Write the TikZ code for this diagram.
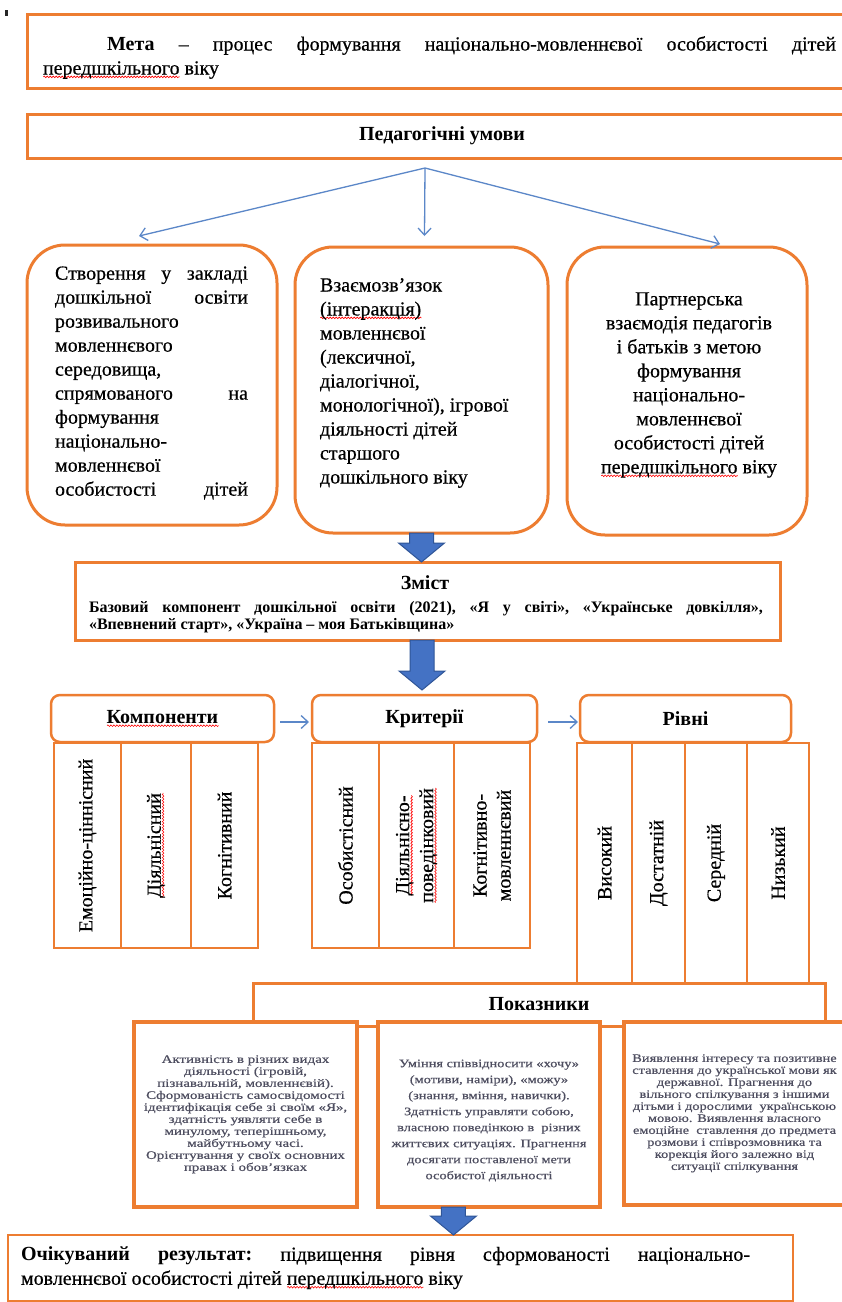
\documentclass[tikz,border=0pt]{standalone}
\usepackage{fontspec}
\setmainfont{Liberation Serif}[UprightFeatures={FakeBold=0.5}]
\usepackage{graphicx}
\usetikzlibrary{arrows.meta,calc,decorations.pathmorphing}
\definecolor{orng}{RGB}{237,125,49}
\definecolor{ablue}{RGB}{68,114,196}
\definecolor{adark}{RGB}{47,85,151}
\definecolor{lblue}{RGB}{91,135,200}
\definecolor{smalltxt}{RGB}{78,78,96}
\newsavebox\sqbox
\newcommand\sq[1]{\sbox\sqbox{#1}\leavevmode\rlap{\raisebox{-3.5pt}{\tikz[x=1pt,y=1pt,sharp corners]\draw[red,fill=none,line width=0.6pt,decorate,decoration={snake,amplitude=0.8pt,segment length=3pt}] (0,0) -- (\the\wd\sqbox,0);}}\usebox\sqbox}
\newcommand\stretchtext[2]{\scalebox{#1}[1]{\begin{tabular}{@{}c@{}}#2\end{tabular}}}
% block arrow from a named start coordinate down to the level of a named target
\newcommand\barrow[2]{%
  \draw[barrowst] ($(#1)+(-12,0)$) -- ($(#1 |- #2)+(-12,-19)$) -- ($(#1 |- #2)+(-23,-19)$)
    -- (#1 |- #2) -- ($(#1 |- #2)+(23,-19)$) -- ($(#1 |- #2)+(12,-19)$) -- ($(#1)+(12,0)$) -- cycle;}
\begin{document}
\begin{tikzpicture}[x=1pt,y=-1pt,
  every node/.style={inner sep=0pt, outer sep=0pt},
  base/.style={font=\fontsize{20}{24}\selectfont},
  obox/.style={draw=orng, line width=3pt, fill=white, rectangle},
  rbox/.style={draw=orng, line width=3pt, fill=white, rounded corners=38pt},
  hdr/.style={draw=orng, line width=2.5pt, fill=white, rounded corners=9pt, font=\fontsize{20}{24}\selectfont\bfseries},
  colbox/.style={draw=orng, line width=2.5pt, fill=white, rotate=90, align=center, font=\fontsize{20}{24}\selectfont},
  ibox/.style={draw=orng, line width=3.5pt, fill=white},
  itext/.style={font=\fontsize{11.5}{12}\selectfont, text=smalltxt},
  tarrow/.style={draw=lblue, line width=1.3pt, -{Straight Barb[length=7pt,width=13pt]}},
  barrowst/.style={fill=ablue, draw=adark, line width=1pt, line join=miter},
]
\useasboundingbox (0,0) rectangle (842,1302);
\fill[white] (0,0) rectangle (842,1302);

% stray mark
\fill[black!85] (5,10) rectangle (7.5,16);

% Meta
\node[obox, anchor=north west, minimum width=830pt, minimum height=74pt] (meta) at (27,14) {};
\node[base, align=left, anchor=west] (metat) at (43,57.5)
  {\hbox to 793pt{\hspace*{64pt}\textbf{Мета}\hfill –\hfill процес\hfill формування\hfill національно-мовленнєвої\hfill особистості\hfill дітей}\\
   \sq{передшкільного} віку};

% Pedagogical conditions
\node[obox, minimum width=830pt, minimum height=44pt, font=\fontsize{20}{24}\selectfont\bfseries] (ped) at (442,136) {Педагогічні умови};

% three condition boxes
\node[rbox, minimum width=250pt, minimum height=280pt] (c1) at (152,385) {};
\node[rbox, minimum width=253pt, minimum height=286pt] (c2) at (421.5,390) {};
\node[rbox, minimum width=240pt, minimum height=288pt] (c3) at (687,391) {};

\node[base, align=left] (c1t) at (151.5,383)
  {\hbox to 193pt{Створення\hfill у\hfill закладі}\\
   \hbox to 193pt{дошкільної\hfill освіти}\\
   розвивального\\
   мовленнєвого\\
   середовища,\\
   \hbox to 193pt{спрямованого\hfill на}\\
   формування\\
   національно-\\
   мовленнєвої\\
   \hbox to 193pt{особистості\hfill дітей}};
\node[base, align=left, anchor=west] (c2t) at (320,383)
  {Взаємозв’язок\\
   \sq{(інтеракція)}\\
   мовленнєвої\\
   (лексичної,\\
   діалогічної,\\
   монологічної), ігрової\\
   діяльності дітей\\
   старшого\\
   дошкільного віку};
\node[base, align=center] (c3t) at (689,385)
  {Партнерська\\
   взаємодія педагогів\\
   і батьків з метою\\
   формування\\
   національно-\\
   мовленнєвої\\
   особистості дітей\\
   \sq{передшкільного} віку};

% thin arrows
\coordinate (fork) at ($(ped.south)+(-17,10)$);
\draw[tarrow] (fork) -- ($(c1.north)+(-13,-9)$);
\draw[tarrow] (fork) -- ($(c2.north)+(3,-11)$);
\draw[tarrow] (fork) -- ($(c3.north)+(33,-3)$);

% Content
\node[obox, minimum width=705pt, minimum height=78pt] (zm) at (427.5,601) {};
\node[font=\fontsize{20}{24}\selectfont\bfseries] (zmh) at (425,583) {Зміст};
\node[align=left, font=\fontsize{16}{17.5}\selectfont\bfseries] (zmt) at (426,617)
  {\hbox to 674pt{Базовий\hfill компонент\hfill дошкільної\hfill освіти\hfill (2021),\hfill «Я\hfill у\hfill світі»,\hfill «Українське\hfill довкілля»,}\\
   «Впевнений старт», «Україна – моя Батьківщина»};

\coordinate (a1s) at (c2.south);
\barrow{a1s}{zm.north}

% headers
\node[hdr, minimum width=223pt, minimum height=47pt] (komp) at (162.5,718.5) {\sq{Компоненти}};
\node[hdr, minimum width=225pt, minimum height=47pt] (krit) at (424.5,718.5) {Критерії};
\node[hdr, minimum width=211pt, minimum height=47pt] (rivni) at (685.5,718.5) {Рівні};

\coordinate (a2s) at ($(zm.south)+(-5.5,0)$);
\coordinate (a2t) at ($(krit.north)+(0,-5)$);
\barrow{a2s}{a2t}

\draw[tarrow] ($(komp.east)+(6,3.5)$) -- ($(krit.west)+(-3,3.5)$);
\draw[tarrow] ($(krit.east)+(11,3.5)$) -- ($(rivni.west)+(-2,3.5)$);

% Indicators header (drawn before columns and boxes)
\node[obox, minimum width=572pt, minimum height=43pt, font=\fontsize{20}{24}\selectfont\bfseries] (pk) at (539,1004.5) {Показники};

% component columns
\node[colbox, minimum width=205pt, minimum height=67pt] (k1) at (87.5,845.5) {Емоційно-ціннісний};
\node[colbox, minimum width=205pt, minimum height=70pt] (k2) at (156,845.5) {\sq{Діяльнісний}};
\node[colbox, minimum width=205pt, minimum height=67pt] (k3) at (224.5,845.5) {Когнітивний};
% criteria columns
\node[colbox, minimum width=205pt, minimum height=67pt] (kr1) at (345.5,845.5) {Особистісний};
\node[colbox, minimum width=205pt, minimum height=75pt] (kr2) at (416.5,845.5) {\sq{Діяльнісно-}\\\sq{поведінковий}};
\node[colbox, minimum width=205pt, minimum height=76pt] (kr3) at (492,845.5) {Когнітивно-\\мовленнєвий};
% level columns
\node[colbox, minimum width=240pt, minimum height=55pt] (r1) at (604.5,863) {Високий};
\node[colbox, minimum width=240pt, minimum height=53pt] (r2) at (658.5,863) {Достатній};
\node[colbox, minimum width=240pt, minimum height=62pt] (r3) at (716,863) {Середній};
\node[colbox, minimum width=240pt, minimum height=62pt] (r4) at (778,863) {Низький};

% indicator boxes
\node[ibox, minimum width=223pt, minimum height=185pt, itext] (ind1) at (245.5,1114.5)
  {\stretchtext{1.3}{Активність в різних видах\\
   діяльності (ігровій,\\
   пізнавальній, мовленнєвій).\\
   Сформованість самосвідомості\\
   ідентифікація себе зі своїм «Я»,\\
   здатність уявляти себе в\\
   минулому, теперішньому,\\
   майбутньому часі.\\
   Орієнтування у своїх основних\\
   правах і обов’язках}};
\node[ibox, minimum width=222pt, minimum height=185pt] (ind2) at (489,1114.5) {};
\node[itext, font=\fontsize{11.5}{16}\selectfont] (ind2t) at (489,1120)
  {\stretchtext{1.25}{Уміння співвідносити «хочу»\\
   (мотиви, наміри), «можу»\\
   (знання, вміння, навички).\\
   Здатність управляти собою,\\
   власною поведінкою в \ різних\\
   життєвих ситуаціях. Прагнення\\
   досягати поставленої мети\\
   особистої діяльності}};
\node[ibox, minimum width=221pt, minimum height=183pt, itext] (ind3) at (734.5,1113.5)
  {\stretchtext{1.25}{Виявлення інтересу та позитивне\\
   ставлення до української мови як\\
   державної. Прагнення до\\
   вільного спілкування з іншими\\
   дітьми і дорослими \ українською\\
   мовою. Виявлення власного\\
   емоційне \ ставлення до предмета\\
   розмови і співрозмовника та\\
   корекція його залежно від\\
   ситуації спілкування}};

% result
\node[obox, line width=2.5pt, anchor=north west, minimum width=785pt, minimum height=66pt] (res) at (8,1235) {};
\node[base, align=left, anchor=west] (rest) at (21,1268)
  {\hbox to 729pt{\textbf{Очікуваний}\hfill \textbf{результат:}\hfill підвищення\hfill рівня\hfill сформованості\hfill національно-}\\
   мовленнєвої особистості дітей \sq{передшкільного} віку};

\coordinate (a3s) at ($(ind2.south west)!0.34!(ind2.south east)$);
\barrow{a3s}{res.north}
\end{tikzpicture}
\end{document}
